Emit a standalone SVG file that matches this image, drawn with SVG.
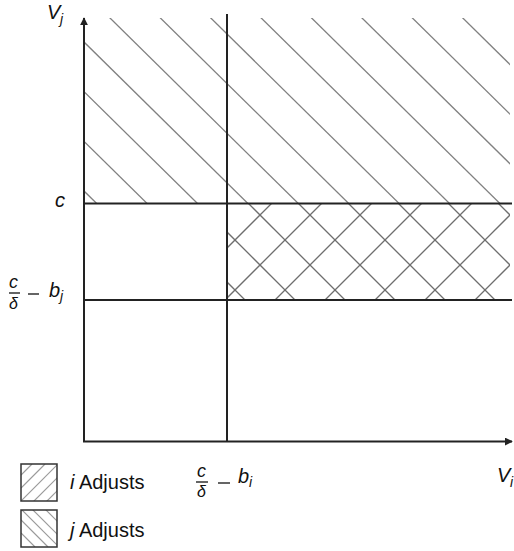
<svg xmlns="http://www.w3.org/2000/svg" width="514" height="551" viewBox="0 0 514 551">
<style>
.axis{stroke:#222;stroke-width:2;fill:none}
.hatch{stroke:#808080;stroke-width:1.3;fill:none}
.cross{stroke:#6e6e6e;stroke-width:1.3;fill:none}
.lg{stroke:#9a9a9a;stroke-width:1.2;fill:none}
.box{stroke:#333;stroke-width:1.5;fill:none}
.bar{stroke:#111;stroke-width:1.3}
text{font-family:"Liberation Sans",Arial,sans-serif;fill:#111}
.it{font-style:italic}
</style>
<defs>
<clipPath id="cpUpper"><rect x="84" y="18" width="426" height="186"/></clipPath>
<clipPath id="cpCross"><rect x="227" y="204" width="283" height="96"/></clipPath>
<clipPath id="cpL1"><rect x="21" y="464" width="36" height="37"/></clipPath>
<clipPath id="cpL2"><rect x="21" y="510" width="36" height="37"/></clipPath>
<marker id="arr" viewBox="0 0 10 10" refX="9" refY="5" markerWidth="4" markerHeight="4" orient="auto" markerUnits="strokeWidth">
<path d="M0,0 L10,5 L0,10 z" fill="#222"/>
</marker>
</defs>
<rect width="514" height="551" fill="#fff"/>

<g id="upper-hatch" clip-path="url(#cpUpper)">
<line class="hatch" x1="-191.6" y1="-80.5" x2="108.4" y2="215"/>
<line class="hatch" x1="-141.2" y1="-80.5" x2="158.8" y2="215"/>
<line class="hatch" x1="-90.8" y1="-80.5" x2="209.2" y2="215"/>
<line class="hatch" x1="-40.4" y1="-80.5" x2="259.6" y2="215"/>
<line class="hatch" x1="10" y1="-80.5" x2="310" y2="215"/>
<line class="hatch" x1="60.4" y1="-80.5" x2="360.4" y2="215"/>
<line class="hatch" x1="110.8" y1="-80.5" x2="410.8" y2="215"/>
<line class="hatch" x1="161.2" y1="-80.5" x2="461.2" y2="215"/>
<line class="hatch" x1="211.6" y1="-80.5" x2="511.6" y2="215"/>
<line class="hatch" x1="262" y1="-80.5" x2="562" y2="215"/>
<line class="hatch" x1="312.4" y1="-80.5" x2="612.4" y2="215"/>
<line class="hatch" x1="362.8" y1="-80.5" x2="662.8" y2="215"/>
</g>

<g id="cross-hatch" clip-path="url(#cpCross)">
<line class="cross" x1="95" y1="200" x2="205" y2="310"/>
<line class="cross" x1="145" y1="200" x2="255" y2="310"/>
<line class="cross" x1="195" y1="200" x2="305" y2="310"/>
<line class="cross" x1="245" y1="200" x2="355" y2="310"/>
<line class="cross" x1="295" y1="200" x2="405" y2="310"/>
<line class="cross" x1="345" y1="200" x2="455" y2="310"/>
<line class="cross" x1="395" y1="200" x2="505" y2="310"/>
<line class="cross" x1="445" y1="200" x2="555" y2="310"/>
<line class="cross" x1="495" y1="200" x2="605" y2="310"/>
<line class="cross" x1="225" y1="200" x2="115" y2="310"/>
<line class="cross" x1="275" y1="200" x2="165" y2="310"/>
<line class="cross" x1="325" y1="200" x2="215" y2="310"/>
<line class="cross" x1="375" y1="200" x2="265" y2="310"/>
<line class="cross" x1="425" y1="200" x2="315" y2="310"/>
<line class="cross" x1="475" y1="200" x2="365" y2="310"/>
<line class="cross" x1="525" y1="200" x2="415" y2="310"/>
<line class="cross" x1="575" y1="200" x2="465" y2="310"/>
<line class="cross" x1="625" y1="200" x2="515" y2="310"/>
<line class="cross" x1="675" y1="200" x2="565" y2="310"/>
</g>

<g id="connectors">
<line class="axis" x1="84" y1="442" x2="84" y2="18" marker-end="url(#arr)"/>
<line class="axis" x1="83" y1="441.5" x2="512" y2="441.5" marker-end="url(#arr)"/>
<line class="axis" x1="227" y1="14" x2="227" y2="441"/>
<line class="axis" x1="84" y1="203.5" x2="512" y2="203.5"/>
<line class="axis" x1="84" y1="300" x2="512" y2="300"/>
</g>

<g id="label-Vj">
<text x="47" y="19" font-size="20" class="it">V</text>
<text x="60" y="24" font-size="14" class="it">j</text>
</g>
<g id="label-c">
<text x="55" y="207" font-size="20" class="it">c</text>
</g>
<g id="label-cdelta-bj">
<text x="9" y="288" font-size="18" class="it">c</text>
<line class="bar" x1="9" y1="293" x2="20" y2="293"/>
<text x="9" y="309" font-size="16" class="it">δ</text>
<line class="bar" x1="28" y1="294" x2="39" y2="294"/>
<text x="49" y="297" font-size="20" class="it">b</text>
<text x="60" y="301" font-size="14" class="it">j</text>
</g>
<g id="label-cdelta-bi">
<text x="197" y="477" font-size="18" class="it">c</text>
<line class="bar" x1="196" y1="482" x2="208" y2="482"/>
<text x="197" y="497" font-size="16" class="it">δ</text>
<line class="bar" x1="218" y1="483" x2="230" y2="483"/>
<text x="238" y="483" font-size="20" class="it">b</text>
<text x="249" y="487" font-size="14" class="it">i</text>
</g>
<g id="label-Vi">
<text x="497" y="482" font-size="20" class="it">V</text>
<text x="510" y="487" font-size="14" class="it">i</text>
</g>

<g id="legend-i">
<g clip-path="url(#cpL1)">
<line class="lg" x1="21" y1="475" x2="32" y2="464"/>
<line class="lg" x1="21" y1="488" x2="45" y2="464"/>
<line class="lg" x1="21" y1="501" x2="58" y2="464"/>
<line class="lg" x1="33" y1="502" x2="71" y2="464"/>
<line class="lg" x1="46" y1="502" x2="84" y2="464"/>
</g>
<rect class="box" x="21" y="464" width="36" height="37"/>
<text x="70" y="489" font-size="20"><tspan class="it">i</tspan> Adjusts</text>
</g>
<g id="legend-j">
<g clip-path="url(#cpL2)">
<line class="lg" x1="21" y1="520" x2="48" y2="547"/>
<line class="lg" x1="21" y1="509" x2="59" y2="547"/>
<line class="lg" x1="32" y1="509" x2="70" y2="547"/>
<line class="lg" x1="45" y1="509" x2="83" y2="547"/>
<line class="lg" x1="21" y1="533" x2="35" y2="547"/>
</g>
<rect class="box" x="21" y="510" width="36" height="37"/>
<text x="70" y="537" font-size="20"><tspan class="it">j</tspan> Adjusts</text>
</g>
</svg>
